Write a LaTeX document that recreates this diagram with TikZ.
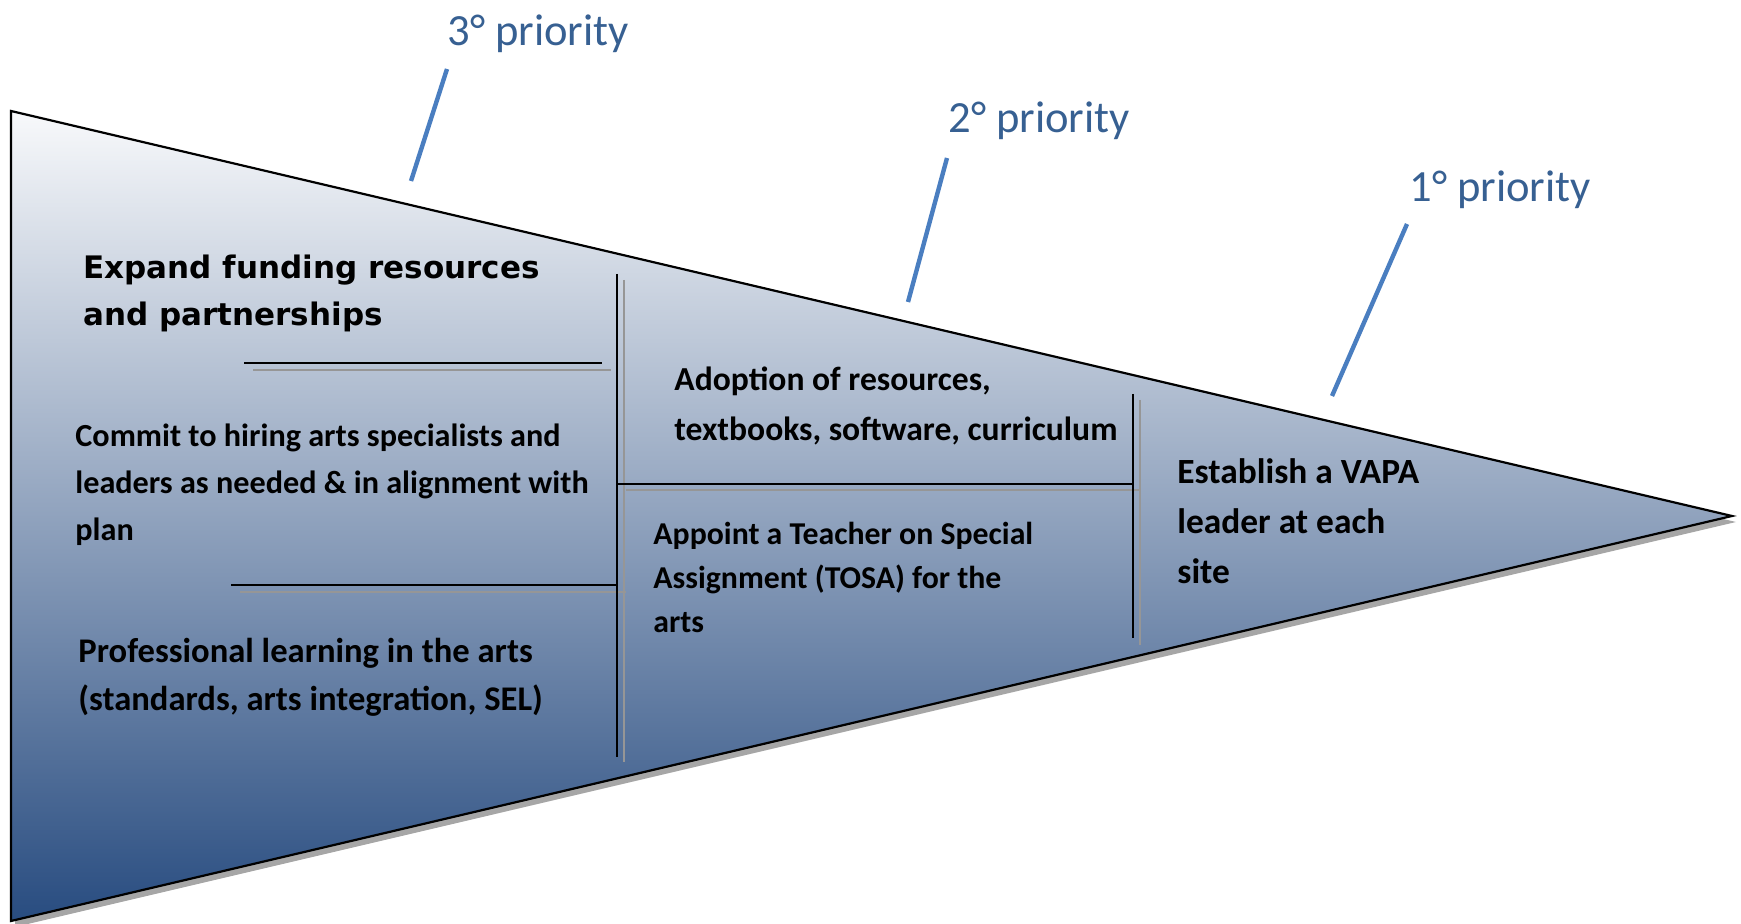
\documentclass[tikz,border=0pt]{standalone}
\usepackage{fontspec}
\setmainfont{Carlito}
\newfontfamily\widesans{DejaVu Sans}
\definecolor{toptint}{RGB}{248,249,251}
\definecolor{deepblue}{RGB}{40,76,128}
\definecolor{tickblue}{RGB}{74,126,192}
\definecolor{labelblue}{RGB}{55,96,146}
\definecolor{ghost}{RGB}{150,150,150}
\begin{document}
\begin{tikzpicture}[x=0.5pt,y=-0.5pt,
  divider/.style={black,line width=1pt},
  dividershade/.style={ghost,line width=0.8pt},
  tick/.style={tickblue,line width=2.2pt},
  prio/.style={anchor=north west,inner sep=0pt,text=labelblue,font=\fontsize{22.3}{26}\selectfont},
  body/.style={anchor=north west,inner sep=0pt,align=left,font=\bfseries}
]
\useasboundingbox (0,0) rectangle (1741,924);

% wedge corners
\coordinate (tl) at (11,111);
\coordinate (bl) at (11,921);
\coordinate (tip) at (1732,516);

% drop shadow and shaded wedge
\fill[gray!70] ([shift={(4,6)}]tl) -- ([shift={(4,6)}]bl) -- ([shift={(4,6)}]tip) -- cycle;
\shade[top color=toptint,bottom color=deepblue,draw=black,line width=1.1pt]
  (tl) -- (bl) -- (tip) -- cycle;

% priority ticks
\coordinate (t3a) at (447,69);  \coordinate (t3b) at (411,181);
\coordinate (t2a) at (947,158); \coordinate (t2b) at (908,302);
\coordinate (t1a) at (1407,224);\coordinate (t1b) at (1332,396);
\draw[tick] (t3a) -- (t3b);
\draw[tick] (t2a) -- (t2b);
\draw[tick] (t1a) -- (t1b);

\node[prio] (p3) at (447,14) {3° priority};
\node[prio] (p2) at (948,101) {2° priority};
\node[prio] (p1) at (1409,170) {1° priority};

% dividers with their faint grey doubles
\coordinate (v1t) at (617,274); \coordinate (v1b) at (617,757);
\coordinate (v1st) at (624,280); \coordinate (v1sb) at (624,762);
\coordinate (h1l) at (244,363); \coordinate (h1r) at (602,363);
\coordinate (h1sl) at (253,370); \coordinate (h1sr) at (611,370);
\coordinate (h2l) at (231,585); \coordinate (h2r) at (617,585);
\coordinate (h2sl) at (240,592); \coordinate (h2sr) at (626,592);
\coordinate (h3l) at (617,484); \coordinate (h3r) at (1133,484);
\coordinate (h3sl) at (626,490); \coordinate (h3sr) at (1140,490);
\coordinate (v2t) at (1133,394); \coordinate (v2b) at (1133,638);
\coordinate (v2st) at (1140,400); \coordinate (v2sb) at (1140,645);

\draw[dividershade] (v1st) -- (v1sb);
\draw[dividershade] (h1sl) -- (h1sr);
\draw[dividershade] (h2sl) -- (h2sr);
\draw[dividershade] (h3sl) -- (h3sr);
\draw[dividershade] (v2st) -- (v2sb);
\draw[divider] (v1t) -- (v1b);
\draw[divider] (h1l) -- (h1r);
\draw[divider] (h2l) -- (h2r);
\draw[divider] (h3l) -- (h3r);
\draw[divider] (v2t) -- (v2b);

% block texts
\node[body,font=\widesans\bfseries\fontsize{15.5}{23.3}\selectfont] (fund) at (83,255)
  {Expand funding resources\\and partnerships};
\node[body,font=\bfseries\fontsize{16.1}{23.5}\selectfont] (hire) at (75,424)
  {Commit to hiring arts specialists and\\leaders as needed \& in alignment with\\plan};
\node[body,font=\bfseries\fontsize{17.3}{24}\selectfont] (learn) at (78,638)
  {Professional learning in the arts\\(standards, arts integration, SEL)};
\node[body,font=\bfseries\fontsize{16.8}{25}\selectfont] (adopt) at (674,366)
  {Adoption of resources,\\textbooks, software, curriculum};
\node[body,font=\bfseries\fontsize{15.9}{22}\selectfont] (tosa) at (653,522)
  {Appoint a Teacher on Special\\Assignment (TOSA) for the\\arts};
\node[body,font=\bfseries\fontsize{17.7}{25}\selectfont] (vapa) at (1177,458)
  {Establish a VAPA\\leader at each\\site};
\end{tikzpicture}
\end{document}
